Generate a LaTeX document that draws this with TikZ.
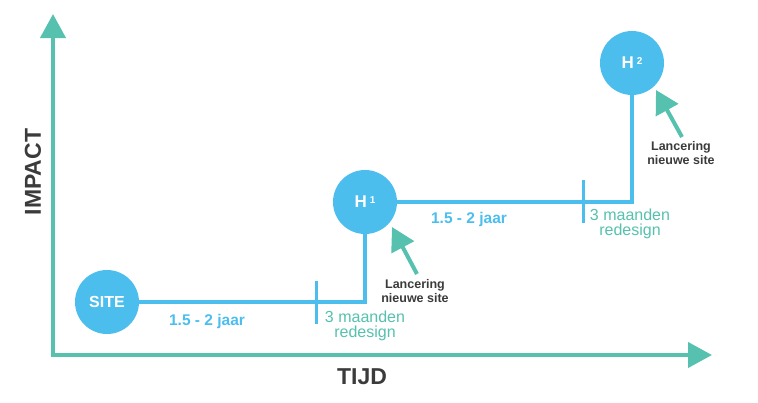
\documentclass[tikz,border=0pt]{standalone}
\usepackage{fontspec}
\setmainfont{Liberation Sans}
\usetikzlibrary{arrows.meta,calc}
\definecolor{cblue}{HTML}{4BBEEE}
\definecolor{cgreen}{HTML}{55C1AE}
\definecolor{cdark}{HTML}{3B3B3B}
\begin{document}
\begin{tikzpicture}[x=1pt,y=-1pt,
  axisline/.style={draw=cgreen,line width=4pt,-{Triangle[length=24pt,width=25pt]}},
  pathline/.style={draw=cblue,line width=4pt},
  tickline/.style={draw=cblue,line width=3pt},
  milestone/.style={circle,fill=cblue,minimum size=64pt,inner sep=0pt,text=white,font=\fontsize{16}{16}\selectfont\bfseries},
  launcharrow/.style={draw=cgreen,line width=4pt,-{Triangle[length=23pt,width=25pt]}},
  durlabel/.style={inner sep=0pt,text=cblue,font=\fontsize{15.5}{16}\selectfont\bfseries},
  redlabel/.style={inner sep=0pt,text=cgreen,align=center,font=\fontsize{16}{15.5}\selectfont},
  launchlabel/.style={inner sep=0pt,text=cdark,align=center,font=\fontsize{12.5}{14}\selectfont\bfseries},
  axislabel/.style={inner sep=0pt,text=cdark,font=\fontsize{23}{23}\selectfont\bfseries}]
\useasboundingbox (0,0) rectangle (758,402);
% axes
\coordinate (origin) at (53,355);
\coordinate (ytip) at (53,14);
\coordinate (xtip) at (712,355);
\draw[axisline] (origin) -- (ytip);
\draw[axisline] ([xshift=-2pt]origin) -- (xtip);
\node[axislabel,rotate=90] (impact) at (33,172) {IMPACT};
\node[axislabel] (tijd) at (362,377) {TIJD};
% milestones
\node[milestone] (site) at (107,302) {SITE};
\node[milestone,font=\fontsize{17}{17}\selectfont\bfseries] (h1) at (365,202) {H\hspace{3pt}\raisebox{4pt}{\fontsize{10}{10}\selectfont 1}};
\node[milestone,font=\fontsize{17}{17}\selectfont\bfseries] (h2) at (632,63) {H\hspace{3pt}\raisebox{4pt}{\fontsize{10}{10}\selectfont 2}};
% path
\coordinate (c1) at (h1 |- site);
\coordinate (c2) at (h2 |- h1);
\draw[pathline] (site.east) -- (c1) -- (h1.south);
\draw[pathline] (h1.east) -- (c2) -- (h2.south);
% ticks
\coordinate (t1a) at (316,281);
\coordinate (t1b) at (316,324);
\coordinate (t2a) at (583,180);
\coordinate (t2b) at (583,223);
\draw[tickline] (t1a) -- (t1b);
\draw[tickline] (t2a) -- (t2b);
% labels
\node[durlabel] (d1) at (207,321) {1.5 - 2 jaar};
\node[durlabel] (d2) at (469,219) {1.5 - 2 jaar};
\node[redlabel] (r1) at (365,326) {3 maanden\\redesign};
\node[redlabel] (r2) at (630,224) {3 maanden\\redesign};
\node[launchlabel] (l1) at (415,291) {Lancering\\nieuwe site};
\node[launchlabel] (l2) at (681,153) {Lancering\\nieuwe site};
% launch arrows
\coordinate (a1s) at (417,274);
\coordinate (a1t) at (392,227);
\coordinate (a2s) at (682,137);
\coordinate (a2t) at (656,90);
\draw[launcharrow] (a1s) -- (a1t);
\draw[launcharrow] (a2s) -- (a2t);
\end{tikzpicture}
\end{document}
